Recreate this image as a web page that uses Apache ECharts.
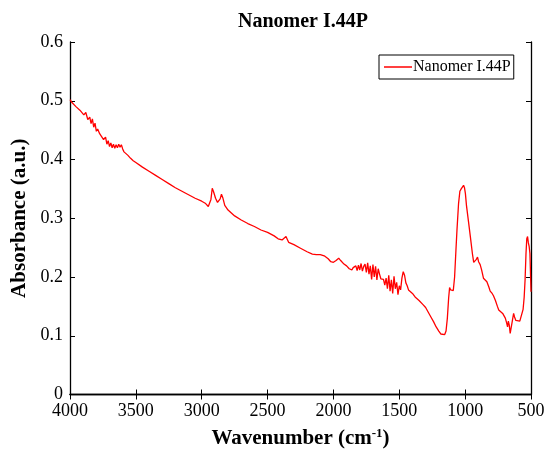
<!DOCTYPE html>
<html>
<head>
<meta charset="utf-8">
<script src="https://cdn.jsdelivr.net/npm/echarts@6/dist/echarts.min.js"></script>
<style>
  html, body { margin: 0; padding: 0; background: #fff; }
  #chart { width: 549px; height: 454px; }
</style>
</head>
<body>
<div id="chart"></div>
<script>
// spectrum
const wavenumber = [
  4000, 3985, 3970, 3955, 3940, 3925, 3910, 3895, 3880, 3865, 3850, 3840, 3830, 3820, 3810, 3800,
  3790, 3775, 3760, 3745, 3730, 3720, 3710, 3700, 3690, 3680, 3670, 3660, 3650, 3640, 3630, 3620,
  3610, 3600, 3590, 3575, 3560, 3540, 3520, 3500, 3450, 3400, 3350, 3300, 3250, 3200, 3150, 3100,
  3050, 3000, 2970, 2950, 2940, 2930, 2920, 2910, 2895, 2880, 2870, 2860, 2850, 2840, 2825, 2800,
  2775, 2750, 2700, 2650, 2600, 2550, 2500, 2450, 2420, 2390, 2375, 2360, 2350, 2340, 2330, 2300,
  2250, 2200, 2160, 2130, 2100, 2070, 2040, 2020, 2000, 1980, 1960, 1945, 1920, 1900, 1880, 1860,
  1850, 1840, 1830, 1820, 1810, 1800, 1790, 1780, 1770, 1760, 1750, 1740, 1730, 1720, 1710, 1700,
  1690, 1680, 1670, 1660, 1650, 1640, 1630, 1620, 1610, 1600, 1590, 1580, 1570, 1560, 1550, 1540,
  1530, 1520, 1510, 1500, 1490, 1480, 1470, 1460, 1450, 1440, 1430, 1420, 1400, 1380, 1350, 1320,
  1300, 1280, 1260, 1240, 1220, 1200, 1185, 1170, 1155, 1145, 1135, 1125, 1118, 1110, 1100, 1090,
  1080, 1070, 1062, 1050, 1040, 1030, 1020, 1012, 1005, 998, 990, 975, 960, 945, 935, 925,
  915, 906, 898, 886, 875, 861, 850, 835, 820, 810, 795, 785, 770, 755, 745, 730,
  715, 705, 695, 685, 678, 672, 665, 658, 651, 642, 632, 625, 615, 600, 585, 570,
  560, 552, 545, 538, 532, 526, 520, 514, 508, 503, 500
];
const absorbance = [
  0.502, 0.497, 0.499, 0.490, 0.493, 0.484, 0.486, 0.476, 0.480, 0.468, 0.472, 0.461, 0.469, 0.455, 0.462, 0.448,
  0.452, 0.444, 0.446, 0.434, 0.438, 0.426, 0.432, 0.422, 0.428, 0.420, 0.426, 0.419, 0.425, 0.420, 0.426, 0.421,
  0.425, 0.418, 0.413, 0.410, 0.407, 0.402, 0.398, 0.395, 0.387, 0.380, 0.373, 0.366, 0.359, 0.352, 0.346, 0.340,
  0.334, 0.329, 0.325, 0.320, 0.318, 0.332, 0.351, 0.345, 0.334, 0.327, 0.326, 0.333, 0.341, 0.335, 0.322, 0.314,
  0.309, 0.304, 0.297, 0.291, 0.286, 0.280, 0.276, 0.270, 0.265, 0.263, 0.264, 0.269, 0.264, 0.259, 0.261, 0.255,
  0.249, 0.243, 0.239, 0.238, 0.238, 0.236, 0.231, 0.226, 0.225, 0.228, 0.232, 0.228, 0.222, 0.219, 0.214, 0.212,
  0.216, 0.213, 0.219, 0.211, 0.220, 0.212, 0.223, 0.210, 0.218, 0.222, 0.208, 0.224, 0.205, 0.219, 0.196, 0.221,
  0.200, 0.218, 0.195, 0.214, 0.205, 0.197, 0.200, 0.196, 0.186, 0.198, 0.180, 0.203, 0.176, 0.195, 0.172, 0.201,
  0.180, 0.191, 0.170, 0.185, 0.178, 0.198, 0.209, 0.203, 0.190, 0.185, 0.178, 0.180, 0.172, 0.166, 0.160, 0.153,
  0.148, 0.140, 0.132, 0.124, 0.115, 0.108, 0.103, 0.101, 0.102, 0.108, 0.130, 0.165, 0.182, 0.178, 0.181, 0.177,
  0.200, 0.245, 0.280, 0.325, 0.346, 0.350, 0.352, 0.356, 0.352, 0.342, 0.322, 0.295, 0.268, 0.240, 0.225, 0.222,
  0.230, 0.234, 0.226, 0.221, 0.212, 0.198, 0.196, 0.192, 0.183, 0.176, 0.172, 0.168, 0.160, 0.150, 0.144, 0.142,
  0.138, 0.136, 0.130, 0.122, 0.115, 0.125, 0.118, 0.104, 0.106, 0.125, 0.138, 0.132, 0.126, 0.124, 0.125, 0.128,
  0.145, 0.165, 0.195, 0.240, 0.265, 0.269, 0.258, 0.252, 0.240, 0.200, 0.175
];
const seriesName = 'Nanomer I.44P';
const xTicks = { min: 500, max: 4000, step: 500 };
const yTicks = { min: 0, max: 0.6, step: 0.1 };

const serif = '"Liberation Serif", "Times New Roman", serif';
const chart = echarts.init(document.getElementById('chart'));

const frameAxis = {
  axisLine: { show: true, lineStyle: { color: '#000', width: 1.3 } },
  axisTick: { show: true, inside: true, length: 5, lineStyle: { color: '#000', width: 1 } },
  splitLine: { show: false }
};

chart.setOption({
  animation: false,
  backgroundColor: '#fff',
  title: {
    text: seriesName,
    left: 298, top: 7, textAlign: 'center',
    textStyle: { fontFamily: serif, fontSize: 20, fontWeight: 'bold', color: '#000' }
  },
  legend: {
    left: 379, top: 55,
    data: [seriesName],
    icon: 'rect',
    itemWidth: 28, itemHeight: 1.5,
    itemGap: 0,
    padding: [4, 3, 4, 5],
    borderColor: '#000', borderWidth: 1, borderRadius: 0,
    textStyle: { fontFamily: serif, fontSize: 16, color: '#000', padding: [0, 0, 0, -4] }
  },
  grid: { left: 70, right: 18, top: 42, bottom: 57 },
  xAxis: [
    Object.assign({}, frameAxis, {
      type: 'value', inverse: true,
      min: xTicks.min, max: xTicks.max, interval: xTicks.step,
      position: 'bottom',
      axisLabel: { fontFamily: serif, fontSize: 18, color: '#000', margin: 8, formatter: v => String(v) },
      name: '{b|Wavenumber (cm}{s|-1}{b|)}',
      nameLocation: 'middle', nameGap: 33,
      nameTextStyle: {
        rich: {
          b: { fontFamily: serif, fontSize: 21, fontWeight: 'bold', color: '#000' },
          s: { fontFamily: serif, fontSize: 13, fontWeight: 'bold', color: '#000', verticalAlign: 'top', padding: [0, 0, 9, 0] }
        }
      }
    }),
    Object.assign({}, frameAxis, {
      type: 'value', inverse: true,
      min: xTicks.min, max: xTicks.max, interval: xTicks.step,
      position: 'top',
      axisLabel: { show: false }
    })
  ],
  yAxis: [
    Object.assign({}, frameAxis, {
      type: 'value',
      min: yTicks.min, max: yTicks.max, interval: yTicks.step,
      position: 'left',
      axisLabel: { fontFamily: serif, fontSize: 18, color: '#000', margin: 7 },
      name: 'Absorbance (a.u.)',
      nameLocation: 'middle', nameGap: 39,
      nameTextStyle: { fontFamily: serif, fontSize: 21, fontWeight: 'bold', color: '#000' }
    }),
    Object.assign({}, frameAxis, {
      type: 'value',
      min: yTicks.min, max: yTicks.max, interval: yTicks.step,
      position: 'right',
      axisLabel: { show: false }
    })
  ],
  series: [{
    name: seriesName,
    type: 'line',
    data: wavenumber.map((w, i) => [w, absorbance[i]]),
    showSymbol: false,
    lineStyle: { color: '#ff0000', width: 1.3 },
    itemStyle: { color: '#ff0000' }
  }]
});
</script>
</body>
</html>
